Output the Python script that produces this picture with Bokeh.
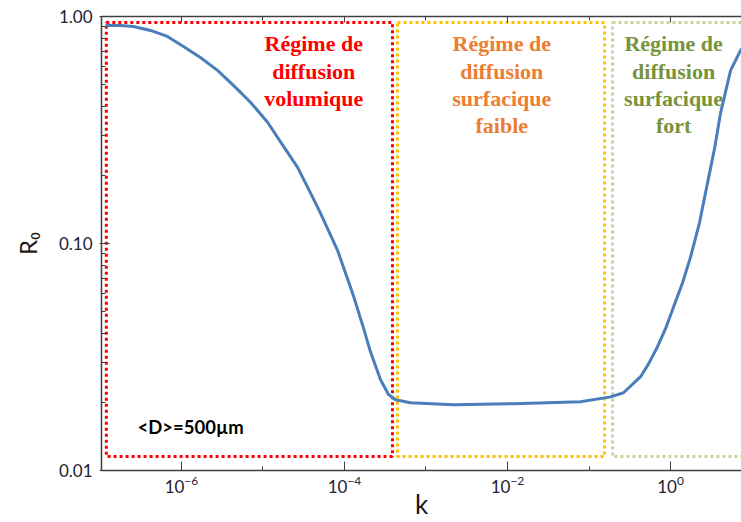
from bokeh.plotting import figure
from bokeh.models import (Range1d, FixedTicker, LogTickFormatter, PrintfTickFormatter,
                          LogAxis, ColumnDataSource)
from bokeh.embed import file_html
from bokeh.resources import INLINE
from bokeh.core.properties import value

# ---- data ----
k_values = [1.17e-7, 1.79e-7, 2.58e-7, 4.17e-7, 6.73e-7, 1.06e-6, 1.71e-6, 2.77e-6,
            4.35e-6, 7.03e-6, 1.14e-5, 1.79e-5, 2.65e-5, 3.83e-5, 5.08e-5, 8.20e-5,
            1.29e-4, 1.71e-4, 2.08e-4, 2.77e-4, 3.47e-4, 4.23e-4, 6.46e-4, 2.17e-3,
            1.19e-2, 7.87e-2, 0.184, 0.265, 0.429, 0.537, 0.692, 0.875, 1.09, 1.40,
            1.76, 2.27, 2.84, 3.47, 4.10, 5.45, 7.23, 9.5]
r0_values = [0.913, 0.913, 0.904, 0.868, 0.817, 0.738, 0.660, 0.579,
             0.497, 0.419, 0.342, 0.268, 0.217, 0.167, 0.136, 0.0936,
             0.0588, 0.0425, 0.0334, 0.0251, 0.0216, 0.0205, 0.0199, 0.0195,
             0.0197, 0.0201, 0.0211, 0.0220, 0.0259, 0.0295, 0.0351, 0.0425, 0.0526, 0.0670,
             0.0873, 0.124, 0.185, 0.263, 0.375, 0.579, 0.710, 0.80]

x_major_ticks = [1e-6, 1e-4, 1e-2, 1.0]
x_minor_ticks = [1e-7, 1e-5, 1e-3, 1e-1, 10.0]
y_major_ticks = [0.01, 0.1, 1.0]
y_minor_ticks = [0.02, 0.03, 0.04, 0.05, 0.06, 0.07, 0.08, 0.09,
                 0.2, 0.3, 0.4, 0.5, 0.6, 0.7, 0.8, 0.9]

regime_labels = ["Régime de\ndiffusion\nvolumique",
                 "Régime de\ndiffusion\nsurfacique\nfaible",
                 "Régime de\ndiffusion\nsurfacique\nfort"]
regime_colors = ["#ff0000", "#ed7d31", "#77933c"]
regime_text_k = [4.2e-5, 8.5e-3, 1.09]
regime_text_r = [0.86, 0.86, 0.86]

box_left = [1.2e-7, 4.47e-4, 0.194]
box_right = [3.88e-4, 0.155, 30.0]
box_top = [0.941, 0.941, 0.941]
box_bottom = [0.01153, 0.01153, 0.01153]
box_colors = ["#ff0000", "#ffc000", "#c3d69b"]

size_label = ["<D>=500µm"]
size_label_k = [2.9e-7]
size_label_r = [0.0156]

# ---- figure ----
p = figure(width=741, height=522, x_axis_type="log", y_axis_type="log",
           x_range=Range1d(10**-6.98, 10**0.87), y_range=Range1d(0.01, 1.0),
           output_backend="svg", toolbar_location=None,
           min_border_left=101, min_border_right=0, min_border_top=16, min_border_bottom=51)
p.grid.visible = False
p.outline_line_color = None
p.background_fill_color = "white"

tick_font = "Lato"
axis_col = "#404040"

xa = p.xaxis[0]
xa.ticker = FixedTicker(ticks=x_major_ticks, minor_ticks=x_minor_ticks)
xa.formatter = LogTickFormatter()
xa.axis_label = "k"
xa.axis_label_text_font = tick_font
xa.axis_label_text_font_style = "normal"
xa.axis_label_text_font_size = "26px"
xa.axis_label_text_color = "#1a1a1a"
xa.axis_label_standoff = -8
xa.major_label_text_font = tick_font
xa.major_label_text_font_size = "17px"
xa.major_label_text_color = "#222233"
xa.major_label_standoff = 5
xa.major_tick_in = 9
xa.major_tick_out = 0
xa.minor_tick_in = 4
xa.minor_tick_out = 0
xa.axis_line_color = axis_col
xa.axis_line_width = 1.5
xa.major_tick_line_color = axis_col
xa.minor_tick_line_color = axis_col

ya = p.yaxis[0]
ya.ticker = FixedTicker(ticks=y_major_ticks, minor_ticks=y_minor_ticks)
ya.formatter = PrintfTickFormatter(format="%.2f")
ya.axis_label = "R₀"
ya.axis_label_text_font = tick_font
ya.axis_label_text_font_style = "normal"
ya.axis_label_text_font_size = "24px"
ya.axis_label_text_color = "#1a1a1a"
ya.axis_label_standoff = 14
ya.major_label_text_font = tick_font
ya.major_label_text_font_size = "17px"
ya.major_label_text_color = "#222233"
ya.major_label_standoff = 7
ya.major_tick_in = 8
ya.major_tick_out = 2
ya.minor_tick_in = 4
ya.minor_tick_out = 0
ya.axis_line_color = axis_col
ya.axis_line_width = 1.5
ya.major_tick_line_color = axis_col
ya.minor_tick_line_color = axis_col

top = LogAxis(ticker=FixedTicker(ticks=x_major_ticks, minor_ticks=x_minor_ticks),
              formatter=PrintfTickFormatter(format=" "),
              major_label_text_font_size="1px", major_label_text_alpha=0,
              major_label_standoff=0,
              major_tick_in=6, major_tick_out=0, minor_tick_in=4, minor_tick_out=0,
              axis_line_color=axis_col, axis_line_width=1.5,
              major_tick_line_color=axis_col, minor_tick_line_color=axis_col)
p.add_layout(top, "above")

# regime boxes
box_src = ColumnDataSource(dict(left=box_left, right=box_right, top=box_top,
                                bottom=box_bottom, color=box_colors))
p.quad(left="left", right="right", top="top", bottom="bottom", source=box_src,
       fill_color=None, line_color="color", line_width=3, line_dash="3 3")

# curve
p.line(k_values, r0_values, line_color="#4a7ebb", line_width=3, line_join="round")

# regime labels
txt_src = ColumnDataSource(dict(x=regime_text_k, y=regime_text_r, text=regime_labels,
                                color=regime_colors))
p.text(x="x", y="y", text="text", source=txt_src, text_color="color",
       text_font=value("Liberation Serif"), text_font_style="bold",
       text_font_size="22px", text_align="center", text_baseline="top",
       text_line_height=1.09)

p.text(x=size_label_k, y=size_label_r, text=size_label, text_color="black",
       text_font=value("Lato"), text_font_style="bold", text_font_size="18.5px",
       text_align="left", text_baseline="middle")

open("out.html", "w").write(file_html(p, INLINE))
